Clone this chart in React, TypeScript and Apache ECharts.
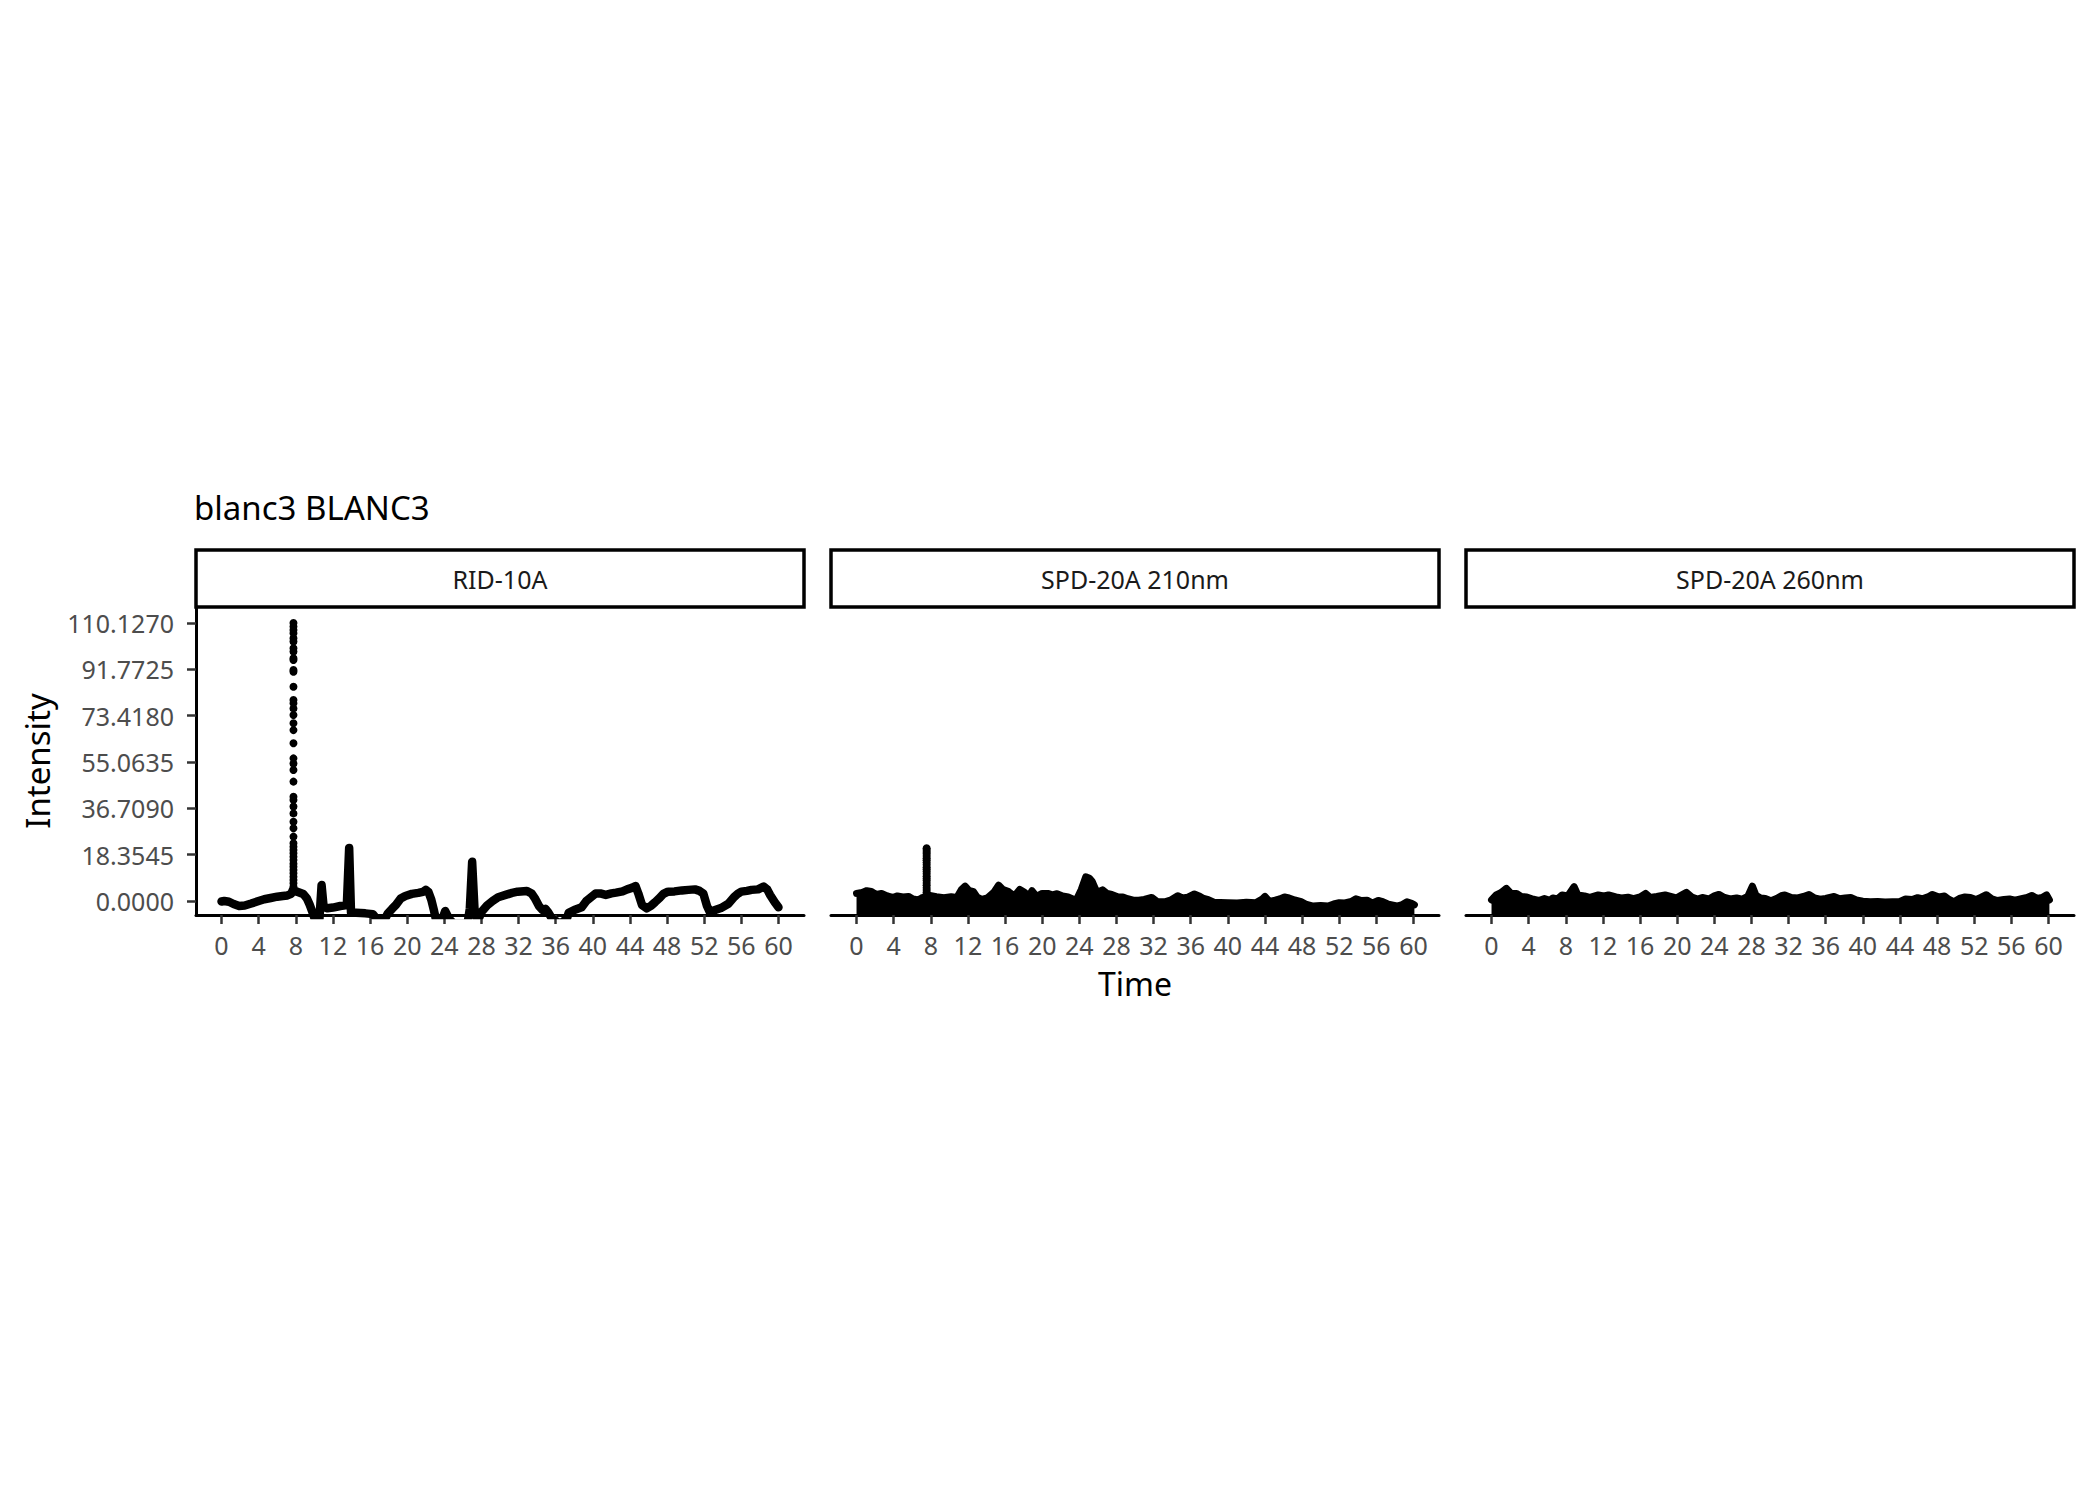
import React, { useEffect, useRef } from "react";
import * as echarts from "echarts";

// ---------- data ----------
const TITLE = "blanc3 BLANC3";
const PANEL_NAMES = ["RID-10A", "SPD-20A 210nm", "SPD-20A 260nm"];
const TIME_TICKS = [0, 4, 8, 12, 16, 20, 24, 28, 32, 36, 40, 44, 48, 52, 56, 60];
const INTENSITY_TICKS = [0, 18.3545, 36.709, 55.0635, 73.418, 91.7725, 110.127];

// RID-10A trace
const RID_TIME = [
  0.0, 0.3, 0.8, 1.3, 1.9, 2.5, 3.2, 4.0, 4.6, 5.3, 6.0, 6.6, 7.1, 7.5, 7.7, 7.9, 8.3, 8.8, 9.2, 9.5,
  9.9, 10.2, 10.55, 10.78, 11.0, 11.4, 12.0, 12.8, 13.5, 13.75, 13.95, 14.5, 15.5, 16.3, 16.9, 17.5,
  17.9, 18.4, 18.8, 19.3, 19.8, 20.5, 21.2, 21.7, 22.0, 22.3, 22.6, 22.9, 23.2, 23.8, 24.1, 24.5,
  25.0, 26.5, 26.75, 27.0, 27.25, 27.6, 28.0, 28.6, 29.2, 29.8, 30.6, 31.3, 31.9, 32.9, 33.4, 33.8,
  34.2, 34.6, 34.9, 35.2, 35.6, 36.5, 37.2, 37.4, 38.0, 38.8, 39.3, 39.8, 40.3, 40.8, 41.4, 42.0,
  42.5, 43.2, 43.7, 44.2, 44.6, 44.9, 45.3, 45.8, 46.3, 46.7, 47.2, 47.6, 48.1, 48.8, 49.6, 50.3,
  51.0, 51.5, 51.9, 52.3, 52.6, 53.1, 53.8, 54.6, 55.2, 55.6, 56.0, 56.6, 57.1, 57.8, 58.4, 58.8,
  59.1, 59.6, 60.0,
];
const RID_INTENSITY = [
  -0.2, 0.0, -0.3, -1.2, -2.0, -1.8, -1.0, 0.0, 0.7, 1.2, 1.7, 2.0, 2.2, 2.8, 4.5, 4.0, 3.5, 2.8, 1.0, -1.5,
  -5.5, -9.0, -7.0, 6.3, -2.3, -2.9, -2.6, -2.0, -1.6, 21.0, -4.6, -4.7, -4.9, -5.2, -8.0, -8.0,
  -5.0, -3.0, -1.5, 1.0, 2.0, 2.8, 3.2, 3.6, 4.4, 3.5, 0.5, -4.0, -9.0, -7.0, -4.0, -7.0,
  -9.0, -9.0, -3.0, 15.5, -3.0, -8.0, -4.4, -1.8, 0.0, 1.5, 2.4, 3.2, 3.7, 4.0, 3.0, 0.8,
  -2.0, -3.6, -3.1, -4.5, -7.0, -9.0, -7.0, -4.7, -3.6, -2.5, 0.0, 1.5, 3.0, 3.0, 2.4, 3.0,
  3.3, 3.8, 4.6, 5.2, 5.9, 3.0, -1.6, -2.9, -1.8, -0.5, 1.2, 2.8, 3.7, 3.8, 4.2, 4.4,
  4.6, 4.0, 3.0, -2.0, -4.4, -3.7, -2.8, -1.1, 1.5, 2.8, 3.7, 4.0, 4.4, 4.6, 5.7, 4.5,
  2.4, -0.5, -2.5,
];
// sparse points of the steep RID-10A peak
const RID_PEAK_TIME = 7.75;
const RID_PEAK_INTENSITY = [
  110.127, 108.7, 107.4, 106.1, 104.1, 102.8, 100.1, 98.8, 96.2, 95.5, 91.5, 90.8, 84.9, 79.6, 78.3,
  76.3, 73.7, 70.4, 67.7, 62.5, 56.5, 54.5, 51.9, 47.3, 41.3, 40.0, 37.4, 34.7, 31.4, 28.8, 25.5,
  22.9, 21.5, 20.2, 18.9, 17.5, 16.2, 14.8, 13.6, 12.3, 11.0, 9.6, 8.3, 7.0, 5.7,
];

// SPD-20A 210nm trace (upper edge of the dense noise)
const SPD210_TIME = [
  0.0, 0.6, 1.1, 1.6, 2.1, 2.7, 3.3, 3.9, 4.4, 5.0, 5.6, 6.1, 6.6, 7.0, 7.9, 8.6, 9.4, 10.2, 10.8, 11.3,
  11.7, 12.1, 12.6, 13.0, 13.5, 14.1, 14.8, 15.3, 15.8, 16.4, 17.0, 17.6, 18.1, 18.5, 18.9, 19.4,
  20.0, 20.6, 21.1, 21.6, 22.2, 22.8, 23.3, 23.7, 24.2, 24.7, 25.1, 25.4, 25.9, 26.5, 27.0, 27.5,
  28.2, 28.7, 29.2, 29.8, 30.4, 31.0, 31.8, 32.4, 33.2, 33.9, 34.6, 35.1, 35.7, 36.4, 36.9, 37.4,
  37.9, 38.5, 39.2, 40.0, 41.0, 42.0, 43.0, 43.7, 44.0, 44.5, 45.1, 45.6, 46.1, 46.6, 47.2, 47.9,
  48.5, 49.2, 50.0, 50.8, 51.4, 52.0, 52.6, 53.3, 53.8, 54.4, 55.0, 55.6, 56.2, 56.7, 57.3, 58.2,
  58.8, 59.3, 59.8, 60.1,
];
const SPD210_INTENSITY = [
  3.0, 3.4, 4.1, 3.8, 2.6, 3.0, 2.0, 1.4, 2.0, 1.6, 1.8, 0.8, 0.4, 1.2, 2.2, 1.7, 1.3, 1.7, 1.4, 4.5,
  5.9, 4.2, 3.7, 1.5, 0.6, 1.2, 3.5, 6.3, 4.5, 3.7, 2.0, 4.6, 3.5, 1.5, 4.1, 1.8,
  3.0, 3.0, 2.4, 2.9, 2.0, 1.6, 0.8, 0.6, 4.5, 9.6, 9.0, 7.7, 3.4, 4.4, 3.0, 2.6,
  1.6, 1.6, 0.9, 0.3, 0.3, 0.6, 1.4, -0.2, -0.3, 0.5, 2.1, 1.2, 1.5, 2.8, 2.0, 1.0,
  0.5, -0.5, -0.6, -0.7, -0.8, -0.5, -0.7, 0.8, 1.8, -0.2, 0.3, 0.8, 1.6, 1.2, 0.4, -0.3,
  -1.4, -2.0, -1.8, -2.0, -1.2, -0.7, -0.8, -0.2, 0.9, 0.2, 0.3, -0.8, 0.2, -0.3, -1.3, -2.0,
  -1.4, -0.3, -0.9, -1.5,
];
const SPD210_PEAK_TIME = 7.55;
const SPD210_PEAK_INTENSITY = [
  20.9, 20.2, 19.4, 18.7, 17.8, 16.9, 16.1, 15.2, 14.4, 13.4, 12.6, 11.7, 10.8, 9.8, 8.9, 8.1, 7.1,
  6.2, 5.2, 4.4, 3.5, 2.6,
];

// SPD-20A 260nm trace (upper edge of the dense noise)
const SPD260_TIME = [
  0.0, 0.5, 1.0, 1.6, 2.1, 2.7, 3.2, 3.8, 4.5, 5.1, 5.7, 6.3, 6.6, 7.1, 7.6, 8.2, 8.9, 9.3, 10.0, 10.6,
  11.5, 12.1, 12.6, 13.4, 14.0, 14.7, 15.3, 16.0, 16.6, 17.1, 17.8, 18.7, 19.3, 19.9, 20.5, 21.0,
  21.6, 22.2, 22.7, 23.4, 24.0, 24.5, 25.1, 25.7, 26.4, 27.0, 27.6, 28.1, 28.5, 29.0, 29.5, 30.1,
  30.7, 31.3, 31.6, 32.3, 33.0, 33.6, 34.2, 34.8, 35.4, 36.0, 36.9, 37.5, 38.1, 38.7, 39.3, 40.0,
  40.8, 41.6, 42.4, 43.2, 44.0, 44.6, 45.3, 45.9, 46.4, 47.0, 47.5, 48.2, 48.8, 49.3, 49.8, 50.4,
  51.0, 51.6, 52.2, 52.7, 53.3, 53.9, 54.5, 55.2, 55.8, 56.4, 57.1, 57.7, 58.2, 58.8, 59.3, 59.8,
  60.1,
];
const SPD260_INTENSITY = [
  0.4, 2.4, 3.3, 5.0, 3.0, 3.0, 1.8, 1.6, 0.7, 0.2, 1.0, 0.3, 1.2, 0.8, 2.4, 2.0, 5.7, 2.4, 2.0, 1.4,
  2.4, 2.0, 2.4, 1.6, 1.2, 1.5, 0.9, 1.6, 3.0, 1.4, 1.8, 2.4, 1.8, 1.2, 2.4, 3.4,
  1.5, 0.8, 1.4, 0.8, 2.0, 2.6, 1.4, 0.8, 1.2, 0.7, 1.8, 5.9, 2.2, 1.2, 1.0, 0.1,
  1.0, 2.2, 2.4, 1.4, 1.2, 1.8, 2.6, 1.2, 0.7, 1.0, 1.8, 0.9, 1.2, 1.4, 0.4, -0.1,
  -0.3, -0.2, -0.4, -0.3, -0.2, 0.8, 0.6, 1.3, 0.9, 1.6, 2.6, 1.6, 2.0, 0.6, -0.3, 1.0,
  1.6, 1.4, 0.6, 1.4, 2.5, 0.9, 0.2, 0.6, 0.8, 0.3, 0.9, 1.4, 2.2, 1.0, 1.4, 2.4,
  0.4,
];

// ---------- layout ----------
const FONT = "'Noto Sans', 'Open Sans', sans-serif";
const PANEL_LEFT = [196, 831, 1466];
const PANEL_WIDTH = 608;
const PLOT_TOP = 607;
const PLOT_HEIGHT = 308;
const STRIP_TOP = 550;
const X_MIN = -2.75;
const X_MAX = 62.75;
const Y_MIN = -5.55;
const Y_MAX = 116.47;

const pairs = (xs: number[], ys: number[]) => xs.map((x, i) => [x, ys[i]]);
const column = (x: number, ys: number[]) => ys.map((y) => [x, y]);

export default function App() {
  const ref = useRef<HTMLDivElement>(null);

  useEffect(() => {
    if (!ref.current) return;
    const chart = echarts.init(ref.current, null, { renderer: "svg" });

    const grids = PANEL_LEFT.map((left) => ({
      left,
      top: PLOT_TOP,
      width: PANEL_WIDTH,
      height: PLOT_HEIGHT,
      containLabel: false,
    }));

    const xAxes = PANEL_LEFT.map((_, i) => ({
      type: "value",
      gridIndex: i,
      min: X_MIN,
      max: X_MAX,
      axisLine: { show: true, onZero: false, lineStyle: { color: "#000", width: 3 } },
      axisTick: {
        show: true,
        length: 9,
        customValues: TIME_TICKS,
        lineStyle: { color: "#333", width: 2.5 },
      },
      axisLabel: {
        show: true,
        customValues: TIME_TICKS,
        formatter: (v: number) => String(v),
        fontSize: 25,
        fontFamily: FONT,
        color: "#4d4d4d",
        margin: 17,
      },
      splitLine: { show: false },
    }));

    const yAxes = PANEL_LEFT.map((_, i) => ({
      type: "value",
      gridIndex: i,
      min: Y_MIN,
      max: Y_MAX,
      show: i === 0,
      axisLine: { show: i === 0, onZero: false, lineStyle: { color: "#000", width: 3 } },
      axisTick: {
        show: i === 0,
        length: 9,
        customValues: INTENSITY_TICKS,
        lineStyle: { color: "#333", width: 2.5 },
      },
      axisLabel: {
        show: i === 0,
        customValues: INTENSITY_TICKS,
        formatter: (v: number) => v.toFixed(4),
        fontSize: 25,
        fontFamily: FONT,
        color: "#4d4d4d",
        margin: 22,
      },
      splitLine: { show: false },
    }));

    const lineBase = {
      type: "line",
      showSymbol: false,
      symbol: "none",
      clip: true,
      silent: true,
      lineStyle: { color: "#000", cap: "round", join: "round" },
    };

    const series: any[] = [
      {
        ...lineBase,
        name: PANEL_NAMES[0],
        xAxisIndex: 0,
        yAxisIndex: 0,
        data: pairs(RID_TIME, RID_INTENSITY),
        lineStyle: { ...lineBase.lineStyle, width: 8.5 },
      },
      {
        type: "scatter",
        xAxisIndex: 0,
        yAxisIndex: 0,
        symbolSize: 8,
        itemStyle: { color: "#000", opacity: 1 },
        data: column(RID_PEAK_TIME, RID_PEAK_INTENSITY),
        clip: true,
        silent: true,
      },
      {
        ...lineBase,
        name: PANEL_NAMES[1],
        xAxisIndex: 1,
        yAxisIndex: 1,
        data: pairs(SPD210_TIME, SPD210_INTENSITY),
        lineStyle: { ...lineBase.lineStyle, width: 7 },
        areaStyle: { color: "#000", opacity: 1, origin: "start" },
      },
      {
        type: "scatter",
        xAxisIndex: 1,
        yAxisIndex: 1,
        symbolSize: 8,
        itemStyle: { color: "#000", opacity: 1 },
        data: column(SPD210_PEAK_TIME, SPD210_PEAK_INTENSITY),
        clip: true,
        silent: true,
      },
      {
        ...lineBase,
        name: PANEL_NAMES[2],
        xAxisIndex: 2,
        yAxisIndex: 2,
        data: pairs(SPD260_TIME, SPD260_INTENSITY),
        lineStyle: { ...lineBase.lineStyle, width: 7 },
        areaStyle: { color: "#000", opacity: 1, origin: "start" },
      },
    ];

    const graphics: any[] = [
      {
        type: "text",
        x: 194,
        y: 507,
        style: {
          text: TITLE,
          fontSize: 33,
          fontFamily: FONT,
          fill: "#000",
          textAlign: "left",
          textVerticalAlign: "middle",
        },
      },
      {
        type: "text",
        x: PANEL_LEFT[0] + (PANEL_LEFT[2] + PANEL_WIDTH - PANEL_LEFT[0]) / 2,
        y: 983,
        style: {
          text: "Time",
          fontSize: 32,
          fontFamily: FONT,
          fill: "#000",
          textAlign: "center",
          textVerticalAlign: "middle",
        },
      },
      {
        type: "text",
        x: 37,
        y: PLOT_TOP + PLOT_HEIGHT / 2,
        rotation: Math.PI / 2,
        style: {
          text: "Intensity",
          fontSize: 33,
          fontFamily: FONT,
          fill: "#000",
          textAlign: "center",
          textVerticalAlign: "middle",
        },
      },
    ];
    PANEL_LEFT.forEach((left, i) => {
      graphics.push({
        type: "rect",
        shape: { x: left, y: STRIP_TOP, width: PANEL_WIDTH, height: PLOT_TOP - STRIP_TOP },
        style: { fill: "#fff", stroke: "#000", lineWidth: 3.5 },
      });
      graphics.push({
        type: "text",
        x: left + PANEL_WIDTH / 2,
        y: STRIP_TOP + (PLOT_TOP - STRIP_TOP) / 2,
        style: {
          text: PANEL_NAMES[i],
          fontSize: 25,
          fontFamily: FONT,
          fill: "#1a1a1a",
          textAlign: "center",
          textVerticalAlign: "middle",
        },
      });
    });

    chart.setOption({
      animation: false,
      backgroundColor: "#fff",
      grid: grids,
      xAxis: xAxes,
      yAxis: yAxes,
      series,
      graphic: graphics,
    });

    return () => chart.dispose();
  }, []);

  return (
    <div
      ref={ref}
      style={{ position: "absolute", left: 0, top: 0, width: 2100, height: 1499, background: "#fff" }}
    />
  );
}
